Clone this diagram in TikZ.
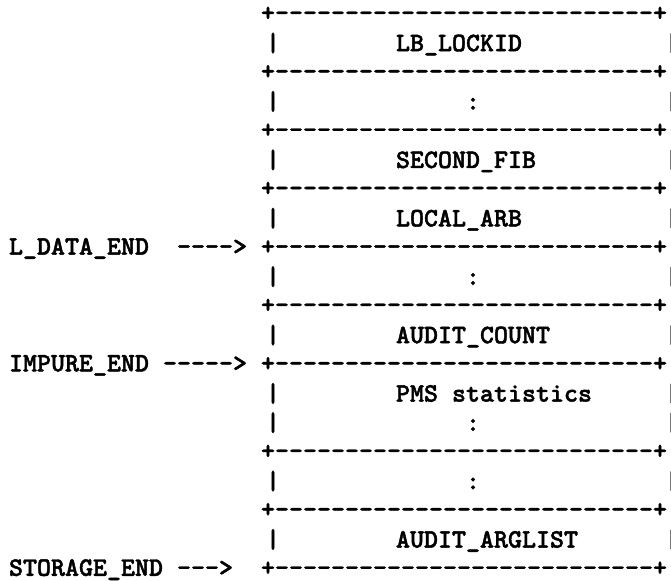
\documentclass[tikz,border=0pt]{standalone}
\usepackage{fontspec}
% heavy typewriter face for the whole layout chart
\newfontfamily\asciifont{lmmonolt10-bold.otf}[FakeBold=1.6]
\newcommand\ruleline{+---------------------------+}
\begin{document}
\begin{tikzpicture}[x=0.75pt,y=-0.75pt,
  ascii/.style={font=\asciifont\fontsize{20}{24}\selectfont, inner sep=0pt, outer sep=0pt, text=black},
  rulerow/.style={ascii, anchor=base west},
  tag/.style={ascii, anchor=base west},
  field/.style={ascii, anchor=base west},
  barleft/.style={ascii, anchor=base},
  barright/.style={ascii, anchor=base, text=black!60},
  dots/.style={ascii, anchor=base}]
\fill[white] (0,0) rectangle (671,581);
\useasboundingbox (0,0) rectangle (671,581);
% horizontal rules
\foreach \i in {0,2,4,6,8,10,12,15,17,19}
  \node[rulerow] (rule\i) at (261,{14+29.2*\i+7}) {\ruleline};
% side bars of each storage cell
\foreach \i in {1,3,5,7,9,11,13,14,16,18}{
  \node[barleft] (bl\i) at (273,{14+29.2*\i+8}) {|};
  \node[barright] (br\i) at (671.5,{14+29.2*\i+8}) {|};
}
% cell contents
\node[field] (f1)  at (396,{14+29.2*1+8})  {LB\_LOCKID};
\node[dots]  (d3)  at (473,{14+29.2*3+8})  {:};
\node[field] (f5)  at (396,{14+29.2*5+8})  {SECOND\_FIB};
\node[field] (f7)  at (396,{14+29.2*7+8})  {LOCAL\_ARB};
\node[dots]  (d9)  at (473,{14+29.2*9+8})  {:};
\node[field] (f11) at (396,{14+29.2*11+8}) {AUDIT\_COUNT};
\node[field] (f13) at (396,{14+29.2*13+8}) {PMS statistics};
\node[dots]  (d14) at (473,{14+29.2*14+8}) {:};
\node[dots]  (d16) at (473,{14+29.2*16+8}) {:};
\node[field] (f18) at (396,{14+29.2*18+8}) {AUDIT\_ARGLIST};
% boundary markers with their pointers
\node[tag] (t8)  at (9,{14+29.2*8+7})   {L\_DATA\_END};
\node[tag] (a8)  at (177,{14+29.2*8+7}) {---->};
\node[tag] (t12) at (9,{14+29.2*12+7})  {IMPURE\_END};
\node[tag] (a12) at (163,{14+29.2*12+7}) {----->};
\node[tag] (t19) at (9,{14+29.2*19+7})  {STORAGE\_END};
\node[tag] (a19) at (177,{14+29.2*19+7}) {--->};
\end{tikzpicture}
\end{document}
